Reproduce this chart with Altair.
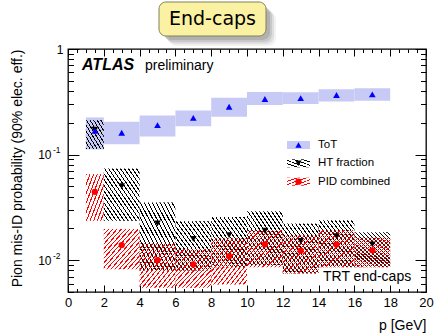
import altair as alt
import pandas as pd

# ---------------- data ----------------
bin_lo = [1, 2, 4, 6, 8, 10, 12, 14, 16]
bin_hi = [2, 4, 6, 8, 10, 12, 14, 16, 18]
p_mid = [1.5, 3, 5, 7, 9, 11, 13, 15, 17]

tot_val = [0.168, 0.161, 0.190, 0.223, 0.284, 0.336, 0.343, 0.367, 0.372]
tot_lo = [0.112, 0.125, 0.148, 0.186, 0.228, 0.295, 0.301, 0.319, 0.324]
tot_hi = [0.225, 0.205, 0.235, 0.262, 0.345, 0.391, 0.389, 0.415, 0.424]

ht_val = [0.172, 0.0503, 0.0223, 0.0159, 0.0173, 0.0190, 0.0152, 0.0169, 0.0141]
ht_lo = [0.113, 0.0236, 0.0080, 0.0080, 0.0086, 0.0090, 0.0075, 0.0086, 0.0086]
ht_hi = [0.212, 0.0740, 0.0352, 0.0234, 0.0257, 0.0291, 0.0223, 0.0239, 0.0184]

pid_val = [0.0444, 0.0139, 0.0100, 0.0091, 0.0109, 0.0141, 0.0123, 0.0141, 0.0124]
pid_lo = [0.0236, 0.0082, 0.0055, 0.0055, 0.0059, 0.0086, 0.0075, 0.0086, 0.0086]
pid_hi = [0.0653, 0.0197, 0.0144, 0.0128, 0.0161, 0.0193, 0.0173, 0.0193, 0.0164]

legend_labels = ["ToT", "HT fraction", "PID combined"]
x_major = [0, 2, 4, 6, 8, 10, 12, 14, 16, 18, 20]
x_minor = [0.5, 1, 1.5, 2.5, 3, 3.5, 4.5, 5, 5.5, 6.5, 7, 7.5, 8.5, 9, 9.5,
           10.5, 11, 11.5, 12.5, 13, 13.5, 14.5, 15, 15.5, 16.5, 17, 17.5,
           18.5, 19, 19.5]
y_major = [0.01, 0.1, 1]
y_minor = [0.005, 0.006, 0.007, 0.008, 0.009,
           0.02, 0.03, 0.04, 0.05, 0.06, 0.07, 0.08, 0.09,
           0.2, 0.3, 0.4, 0.5, 0.6, 0.7, 0.8, 0.9]
y_label_tens = [0.1, 0.01]

W, H = 358, 243
FONT = "Liberation Sans"

xs = alt.Scale(domain=[0, 20], nice=False, zero=False)
ys = alt.Scale(type="log", domain=[0.005, 1], nice=False)


def frame(vals, lo, hi):
    return pd.DataFrame({"lo": bin_lo, "hi": bin_hi, "p": p_mid,
                         "v": vals, "vlo": lo, "vhi": hi})


df_tot = frame(tot_val, tot_lo, tot_hi)
df_ht = frame(ht_val, ht_lo, ht_hi)
df_pid = frame(pid_val, pid_lo, pid_hi)
one = pd.DataFrame({"p": [10], "v": [0.1]})


def hatch(color, n, backslash, frac=0.3):
    stops = []
    clear = "rgba(255,255,255,0)"
    for i in range(n):
        a, b, c = i / n, (i + frac) / n, (i + 1) / n
        stops += [{"offset": a, "color": color}, {"offset": b, "color": color},
                  {"offset": b, "color": clear}, {"offset": c, "color": clear}]
    if backslash:
        return {"gradient": "linear", "stops": stops, "x1": 0, "y1": 1, "x2": 1, "y2": 0}
    return {"gradient": "linear", "stops": stops, "x1": 0, "y1": 0, "x2": 1, "y2": 1}


TOT_FILL = "#c8caf6"
BLUE, BLACK, RED = "#0000ff", "#000000", "#ff0000"


def boxes(df, fill):
    return alt.Chart(df).mark_rect(fill=fill, strokeWidth=0).encode(
        x=alt.X("lo:Q", scale=xs, axis=None), x2="hi:Q",
        y=alt.Y("vlo:Q", scale=ys, axis=None), y2="vhi:Q")


def markers(df, shape, color, size):
    return alt.Chart(df).mark_point(shape=shape, filled=True, color=color,
                                    size=size, opacity=1, strokeWidth=0).encode(
        x=alt.X("p:Q", scale=xs, axis=None),
        y=alt.Y("v:Q", scale=ys, axis=None))


def xaxis(axis):
    return alt.Chart(one).mark_point(opacity=0).encode(
        x=alt.X("p:Q", scale=xs, axis=axis), y=alt.Y("v:Q", scale=ys, axis=None))


def yaxis(axis):
    return alt.Chart(one).mark_point(opacity=0).encode(
        x=alt.X("p:Q", scale=xs, axis=None), y=alt.Y("v:Q", scale=ys, axis=axis))


def tick_axis(orient, vals, size):
    return alt.Axis(orient=orient, values=vals, tickSize=size, offset=-size,
                    labels=False, domain=False, grid=False, title=None,
                    tickColor="black", tickWidth=1)


layers = []
# boxes
layers.append(boxes(df_tot, TOT_FILL))
layers.append(boxes(df_ht.iloc[:1], hatch(BLACK, 10, True)))
layers.append(boxes(df_ht.iloc[1:], hatch(BLACK, 18, True)))
layers.append(boxes(df_pid.iloc[:1], hatch(RED, 10, False)))
layers.append(boxes(df_pid.iloc[1:], hatch(RED, 17, False)))
# markers
layers.append(markers(df_ht, "triangle-down", BLACK, 45))
layers.append(markers(df_pid, "circle", RED, 40))
layers.append(markers(df_tot, "triangle-up", BLUE, 45))

# tick axes (inward)
for orient in ("bottom", "top"):
    layers.append(xaxis(tick_axis(orient, x_major, 7)))
    layers.append(xaxis(tick_axis(orient, x_minor, 3.5)))
for orient in ("left", "right"):
    layers.append(yaxis(tick_axis(orient, y_major, 11)))
    layers.append(yaxis(tick_axis(orient, y_minor, 5.5)))

# label axes
layers.append(xaxis(alt.Axis(
    orient="bottom", values=x_major, ticks=False, tickSize=0, domain=False,
    grid=False, labelPadding=4, labelFontSize=13, labelFlush=False,
    labelOverlap=False, format="d", title="p [GeV]", titleX=W, titleY=37,
    titleAlign="right", titleBaseline="alphabetic", titleFontSize=14,
    titleFontWeight="normal")))
layers.append(yaxis(alt.Axis(
    orient="left", values=[1], ticks=False, tickSize=0, domain=False,
    grid=False, labelPadding=5, labelFontSize=12, labelExpr="'1'",
    title="Pion mis-ID probability (90% elec. eff.)", titleX=-51, titleY=0,
    titleAngle=270, titleAlign="right", titleBaseline="middle",
    titleFontSize=14, titleFontWeight="normal")))
layers.append(yaxis(alt.Axis(
    orient="left", values=y_label_tens, ticks=False, tickSize=0, domain=False,
    grid=False, labelPadding=17, labelFontSize=12, labelExpr="'10'",
    title=None)))
layers.append(yaxis(alt.Axis(
    orient="left", values=y_label_tens, ticks=False, tickSize=0, domain=False,
    grid=False, labelPadding=8, labelFontSize=8.5, labelOffset=-5,
    labelExpr="datum.value < 0.05 ? '-2' : '-1'", title=None)))

# legend
leg_y = [96, 114.3, 132.7]
leg_fill = [TOT_FILL, hatch(BLACK, 5, True), hatch(RED, 5, False)]
leg_shape = ["triangle-up", "triangle-down", "circle"]
leg_color = [BLUE, BLACK, RED]
for lab, yc, fill, shp, col in zip(legend_labels, leg_y, leg_fill, leg_shape, leg_color):
    layers.append(alt.Chart(one).mark_rect(fill=fill, strokeWidth=0).encode(
        x=alt.value(219), x2=alt.value(242), y=alt.value(yc - 4), y2=alt.value(yc + 4)))
    layers.append(alt.Chart(one).mark_point(shape=shp, filled=True, color=col,
                                            size=40, opacity=1, strokeWidth=0).encode(
        x=alt.value(230.5), y=alt.value(yc)))
    layers.append(alt.Chart(one).mark_text(text=lab, align="left", baseline="middle",
                                           fontSize=11.5, font=FONT, color="black").encode(
        x=alt.value(250), y=alt.value(yc)))

# annotations
layers.append(alt.Chart(one).mark_text(text="ATLAS", align="left", baseline="alphabetic",
                                       fontSize=16, fontWeight="bold", fontStyle="italic",
                                       font=FONT, color="black").encode(
    x=alt.value(14), y=alt.value(21)))
layers.append(alt.Chart(one).mark_text(text="preliminary", align="left", baseline="alphabetic",
                                       fontSize=14, font=FONT, color="black").encode(
    x=alt.value(77), y=alt.value(21)))
layers.append(alt.Chart(one).mark_text(text="TRT end-caps", align="left", baseline="alphabetic",
                                       fontSize=14, font=FONT, color="black").encode(
    x=alt.value(255), y=alt.value(232)))

# title box with shadow
for off, op in [(10, 0.08), (8, 0.12), (6, 0.16), (4, 0.2)]:
    layers.append(alt.Chart(one).mark_rect(fill="#555555", opacity=op, cornerRadius=8,
                                           strokeWidth=0).encode(
        x=alt.value(91 + off), x2=alt.value(198 + off),
        y=alt.value(-47 + off), y2=alt.value(-13 + off)))
layers.append(alt.Chart(one).mark_rect(fill="#faf1a2", stroke="#80805a", strokeWidth=1,
                                       cornerRadius=7).encode(
    x=alt.value(91), x2=alt.value(198), y=alt.value(-47), y2=alt.value(-13)))
layers.append(alt.Chart(one).mark_text(text="End-caps", align="center", baseline="middle",
                                       fontSize=19, font="DejaVu Sans", color="black").encode(
    x=alt.value(144.5), y=alt.value(-30)))

chart = alt.layer(*layers).resolve_axis(
    x="independent", y="independent"
).properties(
    width=W, height=H,
    autosize=alt.AutoSizeParams(type="none"),
    padding={"left": 68, "top": 49, "right": 9, "bottom": 42},
).configure_view(
    stroke="black", strokeWidth=1.3
).configure_axis(
    labelFont=FONT, titleFont=FONT, labelColor="black", titleColor="black",
    tickColor="black", grid=False
)

chart.save("out.html", embed_options={"renderer": "svg", "actions": False})
